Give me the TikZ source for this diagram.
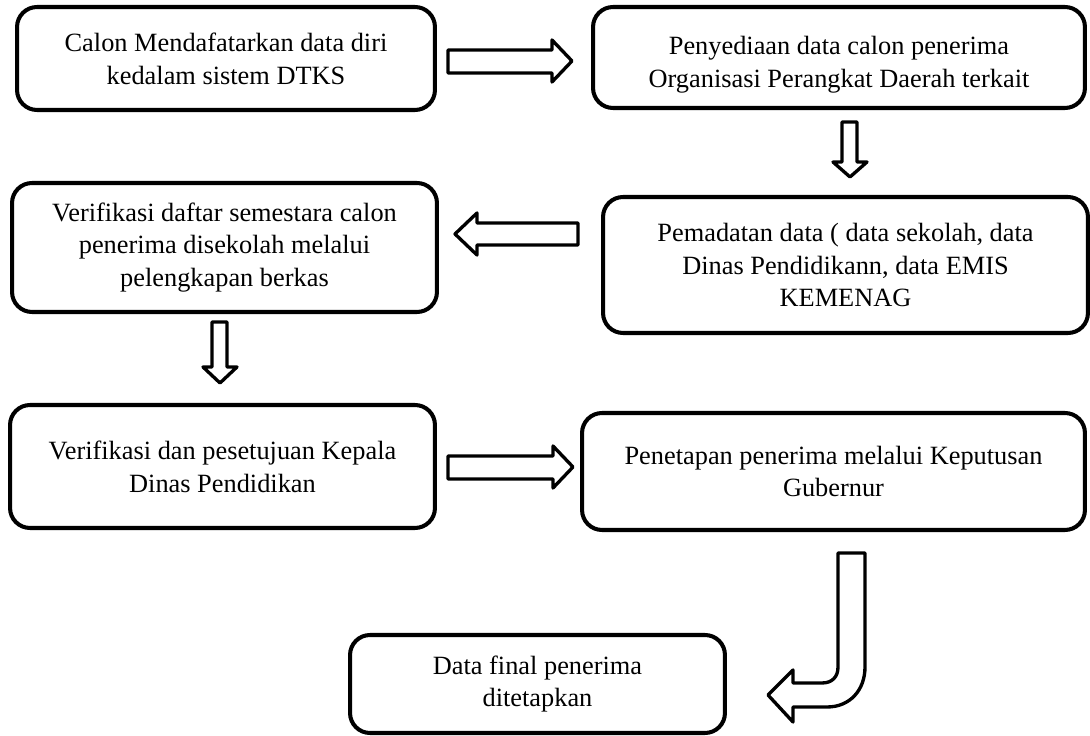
\documentclass[tikz,border=0pt]{standalone}
\usepackage{fontspec}
\setmainfont{Liberation Serif}
\tikzset{
  kotak/.style={draw,line width=2.3pt,rounded corners=0.4cm,align=center,
    inner sep=0pt,font=\fontsize{15}{18.7}\selectfont},
  panah/.style={draw,line width=1.9pt,line join=round,fill=white}
}

\begin{document}
\begin{tikzpicture}[x=0.02cm,y=-0.02cm]
  \useasboundingbox (0,0) rectangle (1090,736);
  % kotak-kotak alur
  \node[kotak,minimum width=8.36cm,minimum height=2.06cm] (calon) at (226,58.5)
    {Calon Mendafatarkan data diri\\kedalam sistem DTKS};
  \node[kotak,minimum width=9.84cm,minimum height=2.02cm] (sedia) at (839,57.5)
    {\rule{0pt}{19pt}Penyediaan data calon penerima\\Organisasi Perangkat Daerah terkait};
  \node[kotak,minimum width=9.7cm,minimum height=2.72cm] (padat) at (845.5,265)
    {Pemadatan data ( data sekolah, data\\Dinas Pendidikann, data EMIS\\KEMENAG};
  \node[kotak,minimum width=8.5cm,minimum height=2.58cm] (verif) at (224.5,247.5)
    {Verifikasi daftar semestara calon\\penerima disekolah melalui\\pelengkapan berkas};
  \node[kotak,minimum width=8.5cm,minimum height=2.46cm] (setuju) at (222.5,466.5)
    {Verifikasi dan pesetujuan Kepala\\Dinas Pendidikan};
  \node[kotak,minimum width=10.06cm,minimum height=2.34cm] (tetap) at (833.5,471.5)
    {Penetapan penerima melalui Keputusan\\Gubernur};
  \node[kotak,minimum width=7.5cm,minimum height=1.96cm] (final) at (537.5,684)
    {Data final penerima\\ditetapkan};

  % panah blok
  \draw[panah] (448,50) -- (552,50) -- (552,40) -- (572,61) -- (552,82)
    -- (552,73) -- (448,73) -- cycle;
  \draw[panah] (842,122) -- (857,122) -- (857,162) -- (867,162) -- (850,177)
    -- (833,162) -- (842,162) -- cycle;
  \draw[panah] (578,223) -- (477,223) -- (477,213) -- (455,234) -- (477,255)
    -- (477,245) -- (578,245) -- cycle;
  \draw[panah] (212,322) -- (227,322) -- (227,367) -- (237,367) -- (220,383)
    -- (203,367) -- (212,367) -- cycle;
  \draw[panah] (448,456) -- (553,456) -- (553,446) -- (573,467) -- (553,488)
    -- (553,479) -- (448,479) -- cycle;
  % panah belok ke kiri
  \draw[panah] (793,683) -- (822,683) .. controls (832,683) and (838,677) .. (838,667)
    -- (838,553) -- (865,553) -- (865,667)
    .. controls (865,690) and (850,707) .. (827,707)
    -- (793,707) -- (793,722) -- (768,695) -- (793,670) -- cycle;
\end{tikzpicture}
\end{document}
